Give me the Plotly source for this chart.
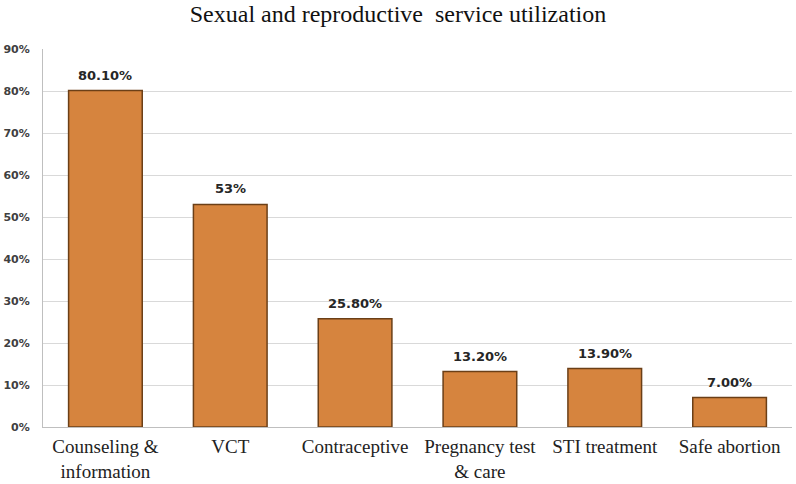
import plotly.graph_objects as go

categories = ["Counseling &<br>information", "VCT", "Contraceptive",
              "Pregnancy test<br>& care", "STI treatment", "Safe abortion"]
values = [0.801, 0.53, 0.258, 0.132, 0.139, 0.07]
value_labels = ["80.10%", "53%", "25.80%", "13.20%", "13.90%", "7.00%"]
y_ticks = [0, 0.1, 0.2, 0.3, 0.4, 0.5, 0.6, 0.7, 0.8, 0.9]

fig = go.Figure(go.Bar(
    x=categories,
    y=values,
    marker=dict(color="#D6843E", line=dict(color="#6b3f17", width=1.5)),
    hoverinfo="x+y",
))

# value labels sit a little above each bar
for cat, val, lab in zip(categories, values, value_labels):
    fig.add_annotation(x=cat, y=val, text=lab, showarrow=False,
                       yanchor="bottom", yshift=6,
                       font=dict(family="DejaVu Sans", size=13, color="#262626", weight="bold"))

fig.update_layout(
    width=796, height=484,
    margin=dict(l=43, r=4, t=49, b=57),
    paper_bgcolor="white", plot_bgcolor="white",
    bargap=0.41,
    showlegend=False,
    title=dict(text="Sexual and reproductive  service utilization",
               x=0.5, xanchor="center", y=0.972, yanchor="middle",
               font=dict(family="Liberation Serif", size=24, color="#111111")),
    xaxis=dict(
        tickfont=dict(family="Liberation Serif", size=19, color="#222222"),
        showline=True, linecolor="#bfbfbf", linewidth=1,
        ticks="", showgrid=False, automargin=False, ticklabelstandoff=2,
    ),
    yaxis=dict(
        range=[0, 0.9], tickvals=y_ticks, tickformat=".0%",
        tickfont=dict(family="DejaVu Sans", size=11, color="#404040", weight="bold"),
        showline=True, linecolor="#bfbfbf", linewidth=1,
        gridcolor="#d9d9d9", gridwidth=1, zeroline=False,
        ticks="", ticklen=0, automargin=False, ticklabelstandoff=10,
    ),
)

# drop the default 8px page margin so the figure sits at the window corner
fig.write_html("out.html", config={"displayModeBar": False},
               post_script="document.body.style.margin='0';")
